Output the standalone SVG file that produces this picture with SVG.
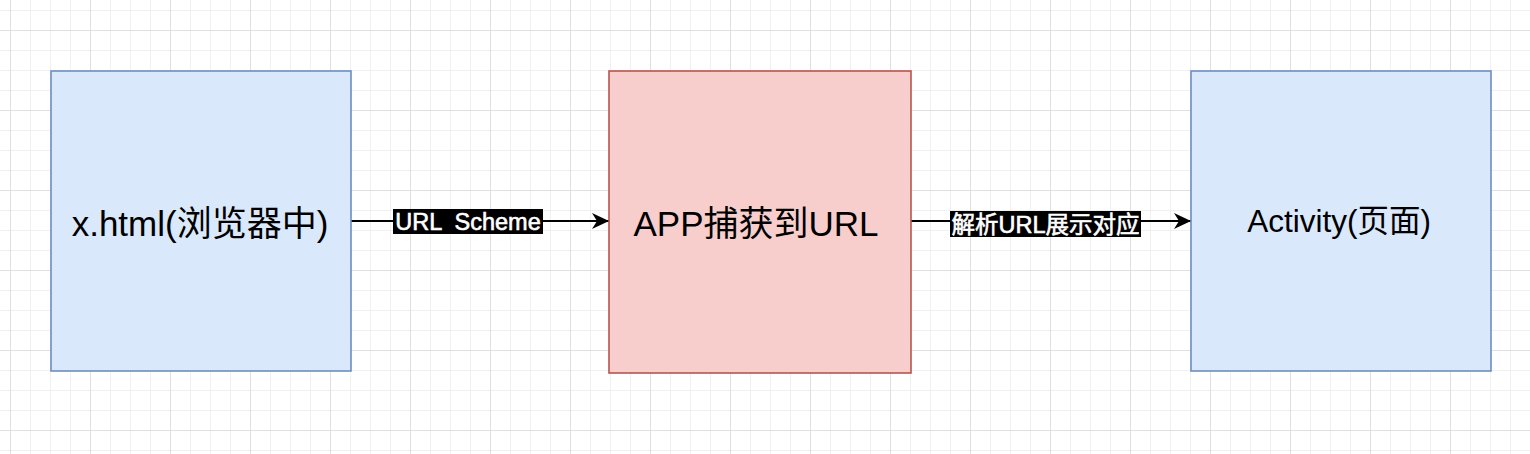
<svg xmlns="http://www.w3.org/2000/svg" width="1530" height="454" viewBox="0 0 1530 454">
  <defs>
    <pattern id="minor" x="10" y="10" width="20" height="20" patternUnits="userSpaceOnUse">
      <path d="M0 0.5H20M0.5 0V20" fill="none" stroke="#f0f0f0" stroke-width="1"/>
    </pattern>
    <pattern id="major" x="10" y="30" width="80" height="80" patternUnits="userSpaceOnUse">
      <path d="M0 0.5H80M0.5 0V80" fill="none" stroke="#e0e0e0" stroke-width="1"/>
    </pattern>
    <marker id="arrow" viewBox="0 0 17 16" refX="17" refY="8" markerWidth="17" markerHeight="16" markerUnits="userSpaceOnUse" orient="auto">
      <path d="M0 0L17 8L0 16L5 8Z" fill="#000"/>
    </marker>
  </defs>
  <style>
    .blue { fill: #dae8fc; stroke: #6c8ebf; stroke-width: 1.6; }
    .red { fill: #f8cecc; stroke: #b85450; stroke-width: 1.6; }
    .node-text { font-family: "Liberation Sans", "Noto Sans CJK SC", sans-serif; font-size: 35px; fill: #000; text-anchor: middle; dominant-baseline: central; }
    .edge { fill: none; stroke: #000; stroke-width: 1.8; }
    .label-bg { fill: #000; }
    .label-text { font-family: "Liberation Sans", "Noto Sans CJK SC", sans-serif; font-size: 23.5px; fill: #fff; stroke: #fff; stroke-width: 0.6; text-anchor: middle; dominant-baseline: central; white-space: pre; }
  </style>
  <rect width="1530" height="454" fill="#ffffff"/>
  <rect width="1530" height="454" fill="url(#minor)"/>
  <rect width="1530" height="454" fill="url(#major)"/>

  <g id="connectors">
    <g id="edge1">
      <path class="edge" d="M351 221H609" marker-end="url(#arrow)"/>
      <rect class="label-bg" x="393" y="209" width="150" height="25"/>
      <text class="label-text" x="468" y="222" xml:space="preserve">URL  Scheme</text>
    </g>
    <g id="edge2">
      <path class="edge" d="M911 221H1191" marker-end="url(#arrow)"/>
      <rect class="label-bg" x="950" y="211" width="191" height="26"/>
      <text class="label-text" x="1045.5" y="224.5">解析URL展示对应</text>
    </g>
  </g>

  <g id="node-browser">
    <rect class="blue" x="51" y="71" width="300" height="300"/>
    <text class="node-text" x="200" y="223">x.html(浏览器中)</text>
  </g>
  <g id="node-app">
    <rect class="red" x="609" y="71" width="302" height="302"/>
    <text class="node-text" x="756" y="223">APP捕获到URL</text>
  </g>
  <g id="node-activity">
    <rect class="blue" x="1191" y="71" width="300" height="300"/>
    <text class="node-text" x="1339" y="221" style="font-size:31.5px">Activity(页面)</text>
  </g>
</svg>
